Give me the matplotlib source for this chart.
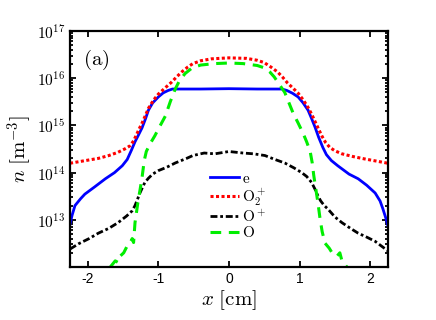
import numpy as np
import matplotlib
matplotlib.use("Agg")
import matplotlib.pyplot as plt
from matplotlib.ticker import FixedLocator, LogLocator, NullFormatter

plt.rcParams['mathtext.fontset'] = 'cm'
plt.rcParams['font.family'] = ['Liberation Sans', 'DejaVu Sans']
plt.rcParams['axes.unicode_minus'] = False

# electrons
x_e = [-2.25, -2.22, -2.18, -2.1, -2.04, -1.9, -1.75, -1.62, -1.51, -1.44, -1.38, -1.33, -1.28, -1.23,
       -1.18, -1.14, -1.08, -1.0, -0.93, -0.86, -0.8, -0.4, 0.0, 0.4, 0.75, 0.82, 0.9, 0.98, 1.05, 1.12,
       1.17, 1.22, 1.27, 1.33, 1.38, 1.45, 1.54, 1.7, 1.83, 1.95, 2.07, 2.14, 2.18, 2.22, 2.25]
n_e = [8.1e12, 1.26e13, 2.0e13, 2.8e13, 3.5e13, 5.0e13, 7.4e13, 1.0e14, 1.4e14, 1.9e14, 3.0e14, 4.5e14, 6.3e14, 8.9e14,
       1.4e15, 2.1e15, 3.0e15, 4.0e15, 4.9e15, 5.5e15, 5.9e15, 5.9e15, 6.0e15, 5.9e15, 5.9e15, 5.5e15, 4.8e15, 4.0e15, 3.0e15, 2.1e15,
       1.4e15, 9.1e14, 5.6e14, 3.4e14, 2.4e14, 1.8e14, 1.4e14, 9.3e13, 7.4e13, 5.4e13, 3.7e13, 2.5e13, 1.7e13, 1.1e13, 7.6e12]

# O2+
x_o2 = [-2.25, -2.05, -1.85, -1.7, -1.57, -1.47, -1.4, -1.35, -1.31, -1.27, -1.23, -1.18, -1.14, -1.07,
        -1.0, -0.9, -0.81, -0.74, -0.67, -0.58, -0.51, -0.4, -0.25, 0.0, 0.25, 0.4, 0.5, 0.6, 0.69, 0.76,
        0.83, 0.9, 0.98, 1.05, 1.12, 1.17, 1.22, 1.27, 1.32, 1.37, 1.43, 1.5, 1.6, 1.75, 1.92, 2.1, 2.25]
n_o2 = [1.58e14, 1.78e14, 2.0e14, 2.3e14, 2.7e14, 3.2e14, 3.7e14, 4.7e14, 6.3e14, 8.5e14, 1.12e15, 1.66e15, 2.3e15, 3.4e15,
        4.6e15, 6.3e15, 8.3e15, 1.07e16, 1.35e16, 1.74e16, 2.04e16, 2.34e16, 2.57e16, 2.7e16, 2.63e16, 2.4e16, 2.14e16, 1.7e16, 1.35e16, 1.05e16,
        7.9e15, 6.3e15, 4.8e15, 3.5e15, 2.4e15, 1.74e15, 1.2e15, 8.3e14, 5.8e14, 4.3e14, 3.4e14, 2.9e14, 2.5e14, 2.2e14, 1.95e14, 1.74e14, 1.58e14]

# O+
x_op = [-2.25, -2.13, -1.98, -1.85, -1.7, -1.57, -1.45, -1.37, -1.33, -1.3, -1.26, -1.22, -1.19, -1.14, -1.08,
        -1.0, -0.88, -0.76, -0.6, -0.51, -0.35, -0.2, 0.0, 0.2, 0.35, 0.51, 0.65, 0.79, 0.92, 1.03, 1.1,
        1.17, 1.22, 1.26, 1.3, 1.35, 1.4, 1.5, 1.6, 1.72, 1.83, 1.95, 2.07, 2.2, 2.25]
n_op = [2.4e12, 3.1e12, 4.0e12, 5.2e12, 6.6e12, 8.7e12, 1.2e13, 1.55e13, 2.0e13, 2.6e13, 3.7e13, 5.0e13, 6.2e13, 7.6e13, 9.3e13,
        1.1e14, 1.3e14, 1.6e14, 2.0e14, 2.3e14, 2.6e14, 2.5e14, 2.8e14, 2.6e14, 2.5e14, 2.3e14, 1.9e14, 1.6e14, 1.26e14, 1.0e14, 8.3e13,
        6.2e13, 4.4e13, 3.2e13, 2.5e13, 2.0e13, 1.7e13, 1.15e13, 8.7e12, 6.6e12, 5.2e12, 4.3e12, 3.5e12, 2.5e12, 2.2e12]

# O-
x_om = [-1.68, -1.61, -1.57, -1.54, -1.49, -1.44, -1.4, -1.37, -1.35, -1.33, -1.31, -1.29, -1.26, -1.23,
        -1.2, -1.17, -1.12, -1.05, -0.98, -0.9, -0.83, -0.76, -0.7, -0.62, -0.52, -0.4, -0.2, 0.0, 0.2, 0.4,
        0.5, 0.58, 0.64, 0.7, 0.79, 0.85, 0.91, 0.98, 1.05, 1.1, 1.15, 1.18, 1.2, 1.22, 1.26, 1.29, 1.32,
        1.36, 1.42, 1.46, 1.53, 1.57, 1.6, 1.67]
n_om = [1.0e12, 1.35e12, 1.25e12, 1.7e12, 2.0e12, 2.8e12, 3.2e12, 4.0e12, 3.3e12, 8.7e12, 1.4e13, 2.3e13, 4.2e13, 7.9e13,
        1.78e14, 2.8e14, 4.0e14, 6.0e14, 9.5e14, 1.58e15, 3.2e15, 5.9e15, 8.9e15, 1.26e16, 1.66e16, 1.9e16, 2.04e16, 2.1e16, 2.04e16, 1.86e16,
        1.66e16, 1.35e16, 1.07e16, 7.9e15, 5.0e15, 3.0e15, 1.8e15, 1.12e15, 6.8e14, 4.5e14, 2.8e14, 1.58e14, 8.9e13, 5.6e13, 2.3e13, 1.05e13, 5.6e12,
        3.2e12, 2.5e12, 2.0e12, 1.7e12, 2.0e12, 1.35e12, 1.0e12]

labels = [r'$\mathrm{e}$', r'$\mathrm{O}_2^+$', r'$\mathrm{O}^+$', r'$\mathrm{O}$']
xticks = [-2, -1, 0, 1, 2]
yexp = [13, 14, 15, 16, 17]

fig = plt.figure(figsize=(4.36, 3.2), dpi=100)
ax = fig.add_axes([0.1606, 0.1656, 0.729, 0.7375])

ax.plot(x_e, n_e, color='#0000ff', lw=2.0, label=labels[0])
ax.plot(x_o2, n_o2, color='#ff0000', lw=2.2, dashes=(1, 0.8), label=labels[1])
ax.plot(x_op, n_op, color='black', lw=2.0, dashes=(2.5, 1.0, 1.0, 1.0), label=labels[2])
ax.plot(x_om, n_om, color='#00ee00', lw=2.2, dashes=(3.5, 2.5), label=labels[3])

ax.set_yscale('log')
ax.set_xlim(-2.25, 2.25)
ax.set_ylim(1e12, 1e17)
ax.set_xticks(xticks)
ax.set_xticklabels([str(t) for t in xticks], fontsize=10)
ax.yaxis.set_major_locator(FixedLocator([10.0**e for e in yexp]))
ax.set_yticklabels([r'$\mathsf{10^{%d}}$' % e for e in yexp], fontsize=11)
ax.yaxis.set_minor_locator(LogLocator(base=10, subs=np.arange(2, 10)))
ax.yaxis.set_minor_formatter(NullFormatter())

ax.tick_params(which='both', direction='in', top=True, right=True, width=1.3)
ax.tick_params(which='major', length=4)
ax.tick_params(which='minor', length=2.5)
for s in ax.spines.values():
    s.set_linewidth(1.6)

ax.set_xlabel(r'$x\ [\mathrm{cm}]$', fontsize=15, labelpad=2)
ax.set_ylabel(r'$n\ [\mathrm{m}^{-3}]$', fontsize=15, labelpad=2)
ax.text(0.04, 0.93, r'$\mathrm{(a)}$', transform=ax.transAxes, fontsize=15, va='top', ha='left')

ax.legend(loc='upper left', bbox_to_anchor=(0.42, 0.43), frameon=False, fontsize=11,
          handlelength=1.95, handletextpad=0.15, labelspacing=0.05, borderaxespad=0)

fig.savefig('out.png', dpi=100)
